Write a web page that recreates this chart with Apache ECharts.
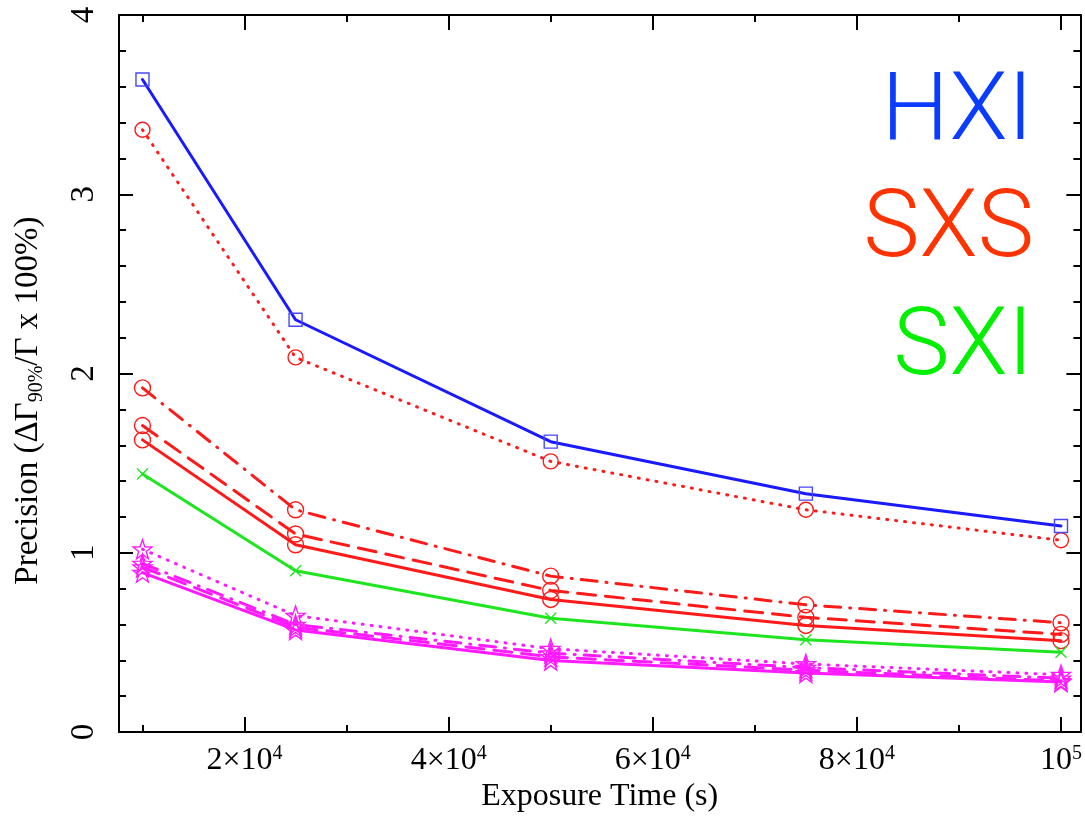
<!DOCTYPE html>
<html>
<head>
<meta charset="utf-8">
<script src="https://cdn.jsdelivr.net/npm/echarts@6/dist/echarts.min.js"></script>
<style>
  html, body { margin: 0; padding: 0; background: #fff; }
  #chart { width: 1085px; height: 818px; }
</style>
</head>
<body>
<div id="chart"></div>
<script>
// exposure times (s)
var exposure = [10000, 25000, 50000, 75000, 100000];

// precision values
var hxi        = [3.64, 2.30, 1.62, 1.33, 1.15];
var sxsDotted  = [3.36, 2.09, 1.51, 1.24, 1.07];
var sxsDashDot = [1.92, 1.24, 0.87, 0.71, 0.61];
var sxsDashed  = [1.71, 1.105, 0.79, 0.64, 0.545];
var sxsSolid   = [1.63, 1.045, 0.74, 0.595, 0.51];
var sxi        = [1.44, 0.90, 0.635, 0.515, 0.445];
var magDotted  = [1.02, 0.65, 0.465, 0.38, 0.32];
var magDashDot = [0.94, 0.60, 0.44, 0.36, 0.30];
var magDashed  = [0.92, 0.585, 0.42, 0.345, 0.285];
var magSolid   = [0.89, 0.57, 0.40, 0.33, 0.28];

// tick positions
var xMajor = [20000, 40000, 60000, 80000, 100000];
var xMinor = [10000, 30000, 50000, 70000, 90000];

var serif = '"Liberation Serif", "DejaVu Serif", serif';
var starPath = 'path://M0,-10 L2.35,-3.24 L9.51,-3.09 L3.8,1.24 L5.88,8.09 L0,4 L-5.88,8.09 L-3.8,1.24 L-9.51,-3.09 L-2.35,-3.24 Z';
var crossPath = 'path://M0,0 L10,10 M10,0 L0,10';

function pairs(ys) {
    return exposure.map(function (x, i) { return [x, ys[i]]; });
}

var dotted = [1, 8];
var dashDot = [16, 9, 1, 9];
var dashed = [18, 10];

function line(name, ys, color, dash, symbol, size, markColor) {
    return {
        name: name,
        type: 'line',
        data: pairs(ys),
        symbol: symbol,
        symbolSize: size,
        showSymbol: true,
        lineStyle: { color: color, width: 3, type: dash || 'solid', cap: 'round' },
        itemStyle: { color: 'transparent', borderColor: markColor || color, borderWidth: 1.4 },
        emphasis: { disabled: true },
        z: 3
    };
}

function xAxisDef(pos, ticks, len, showLine, showLabel) {
    return {
        type: 'value', position: pos, min: 7700, max: 101900,
        axisLine: { show: showLine, onZero: false, lineStyle: { color: '#000', width: 2 } },
        axisTick: { show: true, inside: true, length: len, customValues: ticks, lineStyle: { color: '#000', width: 2 } },
        axisLabel: {
            show: showLabel, customValues: ticks, margin: 12,
            fontFamily: serif, fontSize: 32, color: '#000',
            formatter: function (v) {
                return v === 100000 ? '10{sup|5}' : (v / 10000) + '×10{sup|4}';
            },
            rich: { sup: { fontFamily: serif, fontSize: 20, color: '#000', verticalAlign: 'top', lineHeight: 22 } }
        },
        splitLine: { show: false }
    };
}

function yAxisDef(pos, showLabel) {
    return {
        type: 'value', position: pos, min: 0, max: 4, interval: 1,
        axisLine: { show: true, lineStyle: { color: '#000', width: 2 } },
        axisTick: { show: true, inside: true, length: 14, lineStyle: { color: '#000', width: 2 } },
        minorTick: { show: true, splitNumber: 5, length: 7, lineStyle: { color: '#000', width: 2 } },
        axisLabel: { show: showLabel, rotate: 90, margin: 18, fontFamily: serif, fontSize: 33, color: '#000' },
        splitLine: { show: false }
    };
}

var chart = echarts.init(document.getElementById('chart'));

var xBottom = xAxisDef('bottom', xMajor, 15, true, true);
xBottom.name = 'Exposure Time (s)';
xBottom.nameLocation = 'middle';
xBottom.nameGap = 46;
xBottom.nameTextStyle = { fontFamily: serif, fontSize: 32, color: '#000' };

var yLeft = yAxisDef('left', true);
yLeft.name = 'Precision (ΔΓ{sub|90%}/Γ x 100%)';
yLeft.nameLocation = 'middle';
yLeft.nameGap = 72;
yLeft.nameTextStyle = {
    fontFamily: serif, fontSize: 33, color: '#000', lineHeight: 38,
    padding: [0, 54, 0, 0],
    rich: { sub: { fontFamily: serif, fontSize: 20, color: '#000', verticalAlign: 'bottom', lineHeight: 22 } }
};

var labelFont = '300 95px Roboto, "Liberation Sans", sans-serif';

var option = {
    backgroundColor: '#fff',
    animation: false,
    grid: { left: 119, right: 1, top: 15, bottom: 83 },
    xAxis: [
        xBottom,
        xAxisDef('bottom', xMinor, 7, false, false),
        xAxisDef('top', xMajor, 15, true, false),
        xAxisDef('top', xMinor, 7, false, false)
    ],
    yAxis: [yLeft, yAxisDef('right', false)],
    graphic: [
        { type: 'text', right: 52, top: 68, style: { text: 'HXI', fill: '#0a3cff', font: labelFont } },
        { type: 'text', right: 51, top: 185, style: { text: 'SXS', fill: '#ff3300', font: labelFont } },
        { type: 'text', right: 52, top: 303, style: { text: 'SXI', fill: '#00f000', font: labelFont } }
    ],
    series: [
        line('SXS dotted', sxsDotted, '#ff1a1a', dotted, 'circle', 15),
        line('SXS dash-dot', sxsDashDot, '#ff1a1a', dashDot, 'circle', 16),
        line('SXS dashed', sxsDashed, '#ff1a1a', dashed, 'circle', 16),
        line('SXS solid', sxsSolid, '#ff1a1a', null, 'circle', 16),
        line('SXI', sxi, '#1ee61e', null, crossPath, 11),
        line('mag dotted', magDotted, '#ff1aff', dotted, starPath, 19),
        line('mag dash-dot', magDashDot, '#ff1aff', dashDot, starPath, 19),
        line('mag dashed', magDashed, '#ff1aff', dashed, starPath, 19),
        line('mag solid', magSolid, '#ff1aff', null, starPath, 19),
        line('HXI', hxi, '#1a1aff', null, 'rect', 13, '#4747ff')
    ]
};

chart.setOption(option);
</script>
</body>
</html>
